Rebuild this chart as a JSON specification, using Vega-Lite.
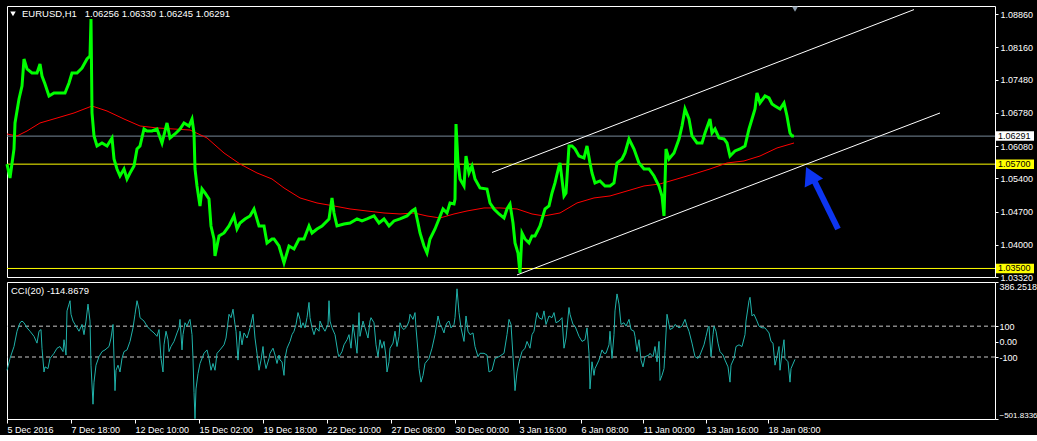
{
  "$schema": "https://vega.github.io/schema/vega-lite/v6.json",
  "background": "#000000",
  "padding": {"left": 0, "top": 5, "right": 0, "bottom": 0},
  "spacing": 5,
  "bounds": "flush",
  "config": {
    "view": {"stroke": "#ffffff", "strokeWidth": 1, "fill": "#000000"},
    "font": "Liberation Sans",
    "axis": {"labelFont": "Liberation Sans", "labelColor": "#ffffff", "tickColor": "#ffffff", "domain": false, "grid": false, "title": null, "labelFontSize": 9, "labelOverlap": false, "labelFlush": false, "tickCount": 50}
  },
  "datasets": {
    "price": [
      {"bar":0,"close":1.0570},{"bar":3,"close":1.05408},{"bar":7,"close":1.0602},{"bar":8,"close":1.06568},{"bar":12,"close":1.07074},{"bar":15,"close":1.07348},{"bar":17,"close":1.07917},{"bar":20,"close":1.07707},{"bar":25,"close":1.07622},{"bar":30,"close":1.07622},{"bar":33,"close":1.07812},{"bar":35,"close":1.07559},{"bar":38,"close":1.0739},{"bar":42,"close":1.07137},{"bar":47,"close":1.07201},{"bar":53,"close":1.07201},{"bar":58,"close":1.07201},{"bar":62,"close":1.07411},{"bar":65,"close":1.07622},{"bar":70,"close":1.07622},{"bar":75,"close":1.07728},{"bar":80,"close":1.07917},{"bar":83,"close":1.07981},{"bar":84,"close":1.08761},{"bar":85,"close":1.06779},{"bar":87,"close":1.06294},{"bar":90,"close":1.06083},{"bar":95,"close":1.06146},{"bar":100,"close":1.06083},{"bar":105,"close":1.06252},{"bar":107,"close":1.05809},{"bar":110,"close":1.05598},{"bar":113,"close":1.0545},{"bar":117,"close":1.05598},{"bar":120,"close":1.05387},{"bar":123,"close":1.05514},{"bar":127,"close":1.05661},{"bar":130,"close":1.0602},{"bar":133,"close":1.06083},{"bar":137,"close":1.06441},{"bar":140,"close":1.06399},{"bar":145,"close":1.06399},{"bar":150,"close":1.06441},{"bar":155,"close":1.06146},{"bar":160,"close":1.06568},{"bar":163,"close":1.06252},{"bar":168,"close":1.06336},{"bar":173,"close":1.06441},{"bar":177,"close":1.06568},{"bar":182,"close":1.06505},{"bar":185,"close":1.06652},{"bar":187,"close":1.06357},{"bar":188,"close":1.05598},{"bar":190,"close":1.0524},{"bar":193,"close":1.04818},{"bar":195,"close":1.05176},{"bar":198,"close":1.05092},{"bar":202,"close":1.04965},{"bar":204,"close":1.04396},{"bar":207,"close":1.04122},{"bar":208,"close":1.03763},{"bar":212,"close":1.04185},{"bar":217,"close":1.04248},{"bar":222,"close":1.04396},{"bar":227,"close":1.04607},{"bar":230,"close":1.04333},{"bar":233,"close":1.04459},{"bar":238,"close":1.04544},{"bar":243,"close":1.04607},{"bar":247,"close":1.04755},{"bar":252,"close":1.04396},{"bar":257,"close":1.04396},{"bar":260,"close":1.04038},{"bar":265,"close":1.04122},{"bar":267,"close":1.04122},{"bar":272,"close":1.03974},{"bar":277,"close":1.03616},{"bar":282,"close":1.03974},{"bar":287,"close":1.03911},{"bar":292,"close":1.04122},{"bar":297,"close":1.04122},{"bar":302,"close":1.04396},{"bar":305,"close":1.04248},{"bar":310,"close":1.04333},{"bar":315,"close":1.04396},{"bar":322,"close":1.04544},{"bar":325,"close":1.04987},{"bar":327,"close":1.0467},{"bar":330,"close":1.04396},{"bar":337,"close":1.04438},{"bar":343,"close":1.04459},{"bar":350,"close":1.04544},{"bar":355,"close":1.04502},{"bar":360,"close":1.04544},{"bar":367,"close":1.04607},{"bar":372,"close":1.04459},{"bar":377,"close":1.04544},{"bar":382,"close":1.04396},{"bar":387,"close":1.04502},{"bar":393,"close":1.04544},{"bar":400,"close":1.04607},{"bar":405,"close":1.04712},{"bar":408,"close":1.04755},{"bar":411,"close":1.04459},{"bar":413,"close":1.04248},{"bar":417,"close":1.03974},{"bar":420,"close":1.03827},{"bar":423,"close":1.04122},{"bar":428,"close":1.04333},{"bar":432,"close":1.04544},{"bar":436,"close":1.04755},{"bar":440,"close":1.0467},{"bar":443,"close":1.04881},{"bar":447,"close":1.0486},{"bar":448,"close":1.04965},{"bar":449,"close":1.06547},{"bar":451,"close":1.05725},{"bar":453,"close":1.05387},{"bar":457,"close":1.0524},{"bar":459,"close":1.05872},{"bar":462,"close":1.05514},{"bar":465,"close":1.05661},{"bar":468,"close":1.05387},{"bar":473,"close":1.05197},{"bar":480,"close":1.05176},{"bar":483,"close":1.04881},{"bar":487,"close":1.04755},{"bar":492,"close":1.04649},{"bar":497,"close":1.04565},{"bar":500,"close":1.04755},{"bar":503,"close":1.0486},{"bar":506,"close":1.04459},{"bar":508,"close":1.04038},{"bar":511,"close":1.03827},{"bar":513,"close":1.03405},{"bar":515,"close":1.04248},{"bar":518,"close":1.04122},{"bar":522,"close":1.04038},{"bar":525,"close":1.04185},{"bar":528,"close":1.04185},{"bar":533,"close":1.04396},{"bar":538,"close":1.04755},{"bar":542,"close":1.04818},{"bar":545,"close":1.05092},{"bar":548,"close":1.05303},{"bar":552,"close":1.05661},{"bar":553,"close":1.05725},{"bar":557,"close":1.05029},{"bar":559,"close":1.05092},{"bar":562,"close":1.06083},{"bar":565,"close":1.06083},{"bar":568,"close":1.0602},{"bar":572,"close":1.05872},{"bar":577,"close":1.0583},{"bar":580,"close":1.06083},{"bar":583,"close":1.05725},{"bar":585,"close":1.05514},{"bar":588,"close":1.05303},{"bar":593,"close":1.05345},{"bar":598,"close":1.0524},{"bar":603,"close":1.0524},{"bar":607,"close":1.05303},{"bar":610,"close":1.05725},{"bar":615,"close":1.05809},{"bar":618,"close":1.05935},{"bar":622,"close":1.06231},{"bar":627,"close":1.0602},{"bar":632,"close":1.05725},{"bar":637,"close":1.05598},{"bar":642,"close":1.05598},{"bar":647,"close":1.0545},{"bar":652,"close":1.0524},{"bar":655,"close":1.05029},{"bar":657,"close":1.04607},{"bar":659,"close":1.0602},{"bar":662,"close":1.05809},{"bar":667,"close":1.05935},{"bar":672,"close":1.06231},{"bar":675,"close":1.06505},{"bar":678,"close":1.06863},{"bar":682,"close":1.06652},{"bar":685,"close":1.06294},{"bar":690,"close":1.06146},{"bar":695,"close":1.06146},{"bar":698,"close":1.06357},{"bar":703,"close":1.06652},{"bar":705,"close":1.06357},{"bar":708,"close":1.06441},{"bar":712,"close":1.06252},{"bar":717,"close":1.06231},{"bar":720,"close":1.06146},{"bar":723,"close":1.05872},{"bar":728,"close":1.05978},{"bar":733,"close":1.0602},{"bar":738,"close":1.06083},{"bar":742,"close":1.06441},{"bar":745,"close":1.06652},{"bar":748,"close":1.06863},{"bar":750,"close":1.07201},{"bar":753,"close":1.0699},{"bar":758,"close":1.07137},{"bar":762,"close":1.07095},{"bar":765,"close":1.06969},{"bar":768,"close":1.06926},{"bar":773,"close":1.06863},{"bar":777,"close":1.0699},{"bar":780,"close":1.06716},{"bar":783,"close":1.06357},{"bar":785,"close":1.06294},{"bar":787,"close":1.06291}
    ],
    "ma": [
      {"bar":0,"ma":1.06336},{"bar":10,"ma":1.06294},{"bar":20,"ma":1.06399},{"bar":33,"ma":1.06568},{"bar":50,"ma":1.06673},{"bar":67,"ma":1.06779},{"bar":85,"ma":1.06926},{"bar":100,"ma":1.06821},{"bar":117,"ma":1.06652},{"bar":133,"ma":1.06505},{"bar":150,"ma":1.06463},{"bar":167,"ma":1.06441},{"bar":183,"ma":1.0642},{"bar":200,"ma":1.06252},{"bar":217,"ma":1.05935},{"bar":233,"ma":1.05703},{"bar":250,"ma":1.05514},{"bar":265,"ma":1.05387},{"bar":277,"ma":1.05197},{"bar":293,"ma":1.04987},{"bar":310,"ma":1.04881},{"bar":327,"ma":1.04818},{"bar":343,"ma":1.04755},{"bar":360,"ma":1.04712},{"bar":377,"ma":1.0467},{"bar":393,"ma":1.04649},{"bar":407,"ma":1.0467},{"bar":420,"ma":1.04607},{"bar":433,"ma":1.04565},{"bar":447,"ma":1.04649},{"bar":460,"ma":1.04712},{"bar":477,"ma":1.04776},{"bar":493,"ma":1.04776},{"bar":510,"ma":1.04755},{"bar":525,"ma":1.04649},{"bar":537,"ma":1.04607},{"bar":553,"ma":1.0467},{"bar":570,"ma":1.04881},{"bar":587,"ma":1.04987},{"bar":603,"ma":1.05029},{"bar":620,"ma":1.05134},{"bar":637,"ma":1.0524},{"bar":653,"ma":1.05282},{"bar":670,"ma":1.05387},{"bar":687,"ma":1.05493},{"bar":703,"ma":1.05598},{"bar":720,"ma":1.05725},{"bar":737,"ma":1.05767},{"bar":753,"ma":1.05872},{"bar":770,"ma":1.06041},{"bar":787,"ma":1.06146}
    ],
    "cci": [
      {"bar":0,"cci":-186},{"bar":3,"cci":-109},{"bar":7,"cci":-32},{"bar":10,"cci":67},{"bar":13,"cci":122},{"bar":15,"cci":133},{"bar":17,"cci":122},{"bar":20,"cci":89},{"bar":23,"cci":67},{"bar":27,"cci":34},{"bar":30,"cci":-10},{"bar":32,"cci":67},{"bar":34,"cci":78},{"bar":35,"cci":-43},{"bar":37,"cci":-197},{"bar":38,"cci":-164},{"bar":41,"cci":-175},{"bar":43,"cci":-109},{"bar":47,"cci":-76},{"bar":50,"cci":-43},{"bar":53,"cci":-32},{"bar":56,"cci":-65},{"bar":57,"cci":12},{"bar":59,"cci":-87},{"bar":60,"cci":199},{"bar":62,"cci":243},{"bar":63,"cci":265},{"bar":64,"cci":177},{"bar":66,"cci":133},{"bar":68,"cci":111},{"bar":72,"cci":67},{"bar":75,"cci":111},{"bar":77,"cci":45},{"bar":79,"cci":133},{"bar":81,"cci":243},{"bar":83,"cci":133},{"bar":84,"cci":-153},{"bar":86,"cci":-406},{"bar":87,"cci":-263},{"bar":89,"cci":-153},{"bar":92,"cci":-98},{"bar":95,"cci":-65},{"bar":98,"cci":-54},{"bar":102,"cci":-32},{"bar":104,"cci":23},{"bar":106,"cci":111},{"bar":107,"cci":-109},{"bar":108,"cci":-318},{"bar":109,"cci":-186},{"bar":111,"cci":-153},{"bar":113,"cci":-197},{"bar":115,"cci":-109},{"bar":117,"cci":-65},{"bar":120,"cci":-54},{"bar":123,"cci":1},{"bar":126,"cci":89},{"bar":128,"cci":177},{"bar":130,"cci":265},{"bar":132,"cci":210},{"bar":133,"cci":155},{"bar":137,"cci":133},{"bar":140,"cci":100},{"bar":143,"cci":78},{"bar":147,"cci":56},{"bar":150,"cci":34},{"bar":152,"cci":78},{"bar":154,"cci":-109},{"bar":156,"cci":-197},{"bar":157,"cci":-21},{"bar":159,"cci":67},{"bar":161,"cci":12},{"bar":162,"cci":-65},{"bar":164,"cci":-32},{"bar":167,"cci":1},{"bar":170,"cci":56},{"bar":172,"cci":89},{"bar":173,"cci":144},{"bar":175,"cci":-54},{"bar":176,"cci":45},{"bar":178,"cci":122},{"bar":180,"cci":100},{"bar":182,"cci":133},{"bar":183,"cci":144},{"bar":185,"cci":45},{"bar":186,"cci":-109},{"bar":187,"cci":-329},{"bar":188,"cci":-500},{"bar":189,"cci":-307},{"bar":191,"cci":-208},{"bar":193,"cci":-142},{"bar":197,"cci":-76},{"bar":200,"cci":-54},{"bar":202,"cci":-109},{"bar":204,"cci":-186},{"bar":206,"cci":-142},{"bar":208,"cci":-186},{"bar":210,"cci":-76},{"bar":213,"cci":-54},{"bar":217,"cci":-21},{"bar":219,"cci":23},{"bar":222,"cci":177},{"bar":224,"cci":155},{"bar":226,"cci":210},{"bar":228,"cci":111},{"bar":229,"cci":67},{"bar":231,"cci":-120},{"bar":233,"cci":67},{"bar":235,"cci":-21},{"bar":237,"cci":56},{"bar":240,"cci":23},{"bar":243,"cci":89},{"bar":246,"cci":177},{"bar":248,"cci":23},{"bar":250,"cci":-76},{"bar":252,"cci":-186},{"bar":254,"cci":-120},{"bar":256,"cci":-32},{"bar":257,"cci":-109},{"bar":259,"cci":-175},{"bar":262,"cci":-109},{"bar":263,"cci":-76},{"bar":266,"cci":-43},{"bar":268,"cci":-87},{"bar":270,"cci":-142},{"bar":272,"cci":-87},{"bar":273,"cci":-120},{"bar":275,"cci":-131},{"bar":277,"cci":-219},{"bar":278,"cci":-109},{"bar":280,"cci":-43},{"bar":283,"cci":1},{"bar":285,"cci":45},{"bar":287,"cci":67},{"bar":289,"cci":111},{"bar":291,"cci":188},{"bar":293,"cci":144},{"bar":294,"cci":89},{"bar":296,"cci":122},{"bar":298,"cci":89},{"bar":300,"cci":155},{"bar":302,"cci":254},{"bar":303,"cci":155},{"bar":305,"cci":89},{"bar":307,"cci":45},{"bar":309,"cci":89},{"bar":312,"cci":67},{"bar":313,"cci":133},{"bar":316,"cci":89},{"bar":318,"cci":67},{"bar":321,"cci":111},{"bar":322,"cci":265},{"bar":323,"cci":133},{"bar":325,"cci":89},{"bar":328,"cci":45},{"bar":331,"cci":-76},{"bar":332,"cci":-98},{"bar":335,"cci":-65},{"bar":337,"cci":-21},{"bar":340,"cci":12},{"bar":342,"cci":45},{"bar":344,"cci":-43},{"bar":346,"cci":111},{"bar":348,"cci":23},{"bar":350,"cci":-76},{"bar":352,"cci":188},{"bar":353,"cci":34},{"bar":356,"cci":133},{"bar":358,"cci":89},{"bar":361,"cci":23},{"bar":363,"cci":133},{"bar":364,"cci":155},{"bar":367,"cci":122},{"bar":369,"cci":-21},{"bar":371,"cci":-98},{"bar":373,"cci":12},{"bar":375,"cci":-43},{"bar":377,"cci":1},{"bar":379,"cci":-98},{"bar":380,"cci":-197},{"bar":382,"cci":-131},{"bar":383,"cci":-43},{"bar":386,"cci":-10},{"bar":388,"cci":67},{"bar":390,"cci":-32},{"bar":392,"cci":34},{"bar":393,"cci":122},{"bar":395,"cci":89},{"bar":397,"cci":78},{"bar":400,"cci":100},
      {"bar":402,"cci":133},{"bar":403,"cci":177},{"bar":406,"cci":144},{"bar":408,"cci":188},{"bar":409,"cci":89},{"bar":411,"cci":-65},{"bar":412,"cci":-175},{"bar":414,"cci":-263},{"bar":416,"cci":-219},{"bar":418,"cci":-142},{"bar":422,"cci":-109},{"bar":425,"cci":-43},{"bar":428,"cci":45},{"bar":431,"cci":166},{"bar":433,"cci":111},{"bar":435,"cci":89},{"bar":437,"cci":56},{"bar":438,"cci":89},{"bar":440,"cci":122},{"bar":442,"cci":133},{"bar":444,"cci":89},{"bar":447,"cci":111},{"bar":448,"cci":155},{"bar":450,"cci":342},{"bar":452,"cci":188},{"bar":454,"cci":89},{"bar":457,"cci":1},{"bar":459,"cci":166},{"bar":461,"cci":67},{"bar":463,"cci":45},{"bar":466,"cci":56},{"bar":468,"cci":-32},{"bar":471,"cci":-98},{"bar":473,"cci":-76},{"bar":477,"cci":-76},{"bar":480,"cci":-87},{"bar":482,"cci":-197},{"bar":485,"cci":-186},{"bar":488,"cci":-109},{"bar":492,"cci":-98},{"bar":497,"cci":-76},{"bar":500,"cci":45},{"bar":502,"cci":144},{"bar":504,"cci":111},{"bar":507,"cci":-197},{"bar":508,"cci":-318},{"bar":510,"cci":-197},{"bar":512,"cci":-131},{"bar":515,"cci":-65},{"bar":518,"cci":-43},{"bar":520,"cci":1},{"bar":523,"cci":-43},{"bar":525,"cci":45},{"bar":527,"cci":67},{"bar":530,"cci":188},{"bar":532,"cci":155},{"bar":535,"cci":144},{"bar":537,"cci":199},{"bar":539,"cci":111},{"bar":542,"cci":166},{"bar":545,"cci":155},{"bar":547,"cci":188},{"bar":549,"cci":122},{"bar":552,"cci":133},{"bar":555,"cci":155},{"bar":557,"cci":-43},{"bar":559,"cci":23},{"bar":562,"cci":221},{"bar":563,"cci":177},{"bar":566,"cci":111},{"bar":568,"cci":100},{"bar":572,"cci":34},{"bar":575,"cci":1},{"bar":578,"cci":12},{"bar":580,"cci":89},{"bar":582,"cci":-76},{"bar":583,"cci":-307},{"bar":585,"cci":-131},{"bar":587,"cci":-219},{"bar":588,"cci":-175},{"bar":592,"cci":-120},{"bar":595,"cci":-54},{"bar":597,"cci":-76},{"bar":599,"cci":-76},{"bar":602,"cci":-21},{"bar":603,"cci":67},{"bar":605,"cci":-109},{"bar":607,"cci":45},{"bar":608,"cci":199},{"bar":610,"cci":309},{"bar":612,"cci":243},{"bar":614,"cci":111},{"bar":617,"cci":122},{"bar":619,"cci":100},{"bar":622,"cci":144},{"bar":624,"cci":78},{"bar":627,"cci":67},{"bar":628,"cci":34},{"bar":630,"cci":-65},{"bar":632,"cci":12},{"bar":634,"cci":-120},{"bar":636,"cci":-164},{"bar":638,"cci":-98},{"bar":642,"cci":-87},{"bar":643,"cci":-76},{"bar":646,"cci":-98},{"bar":648,"cci":-32},{"bar":650,"cci":-131},{"bar":652,"cci":1},{"bar":653,"cci":-252},{"bar":655,"cci":-219},{"bar":657,"cci":-175},{"bar":658,"cci":-65},{"bar":660,"cci":177},{"bar":662,"cci":111},{"bar":663,"cci":78},{"bar":666,"cci":89},{"bar":668,"cci":111},{"bar":672,"cci":89},{"bar":675,"cci":100},{"bar":678,"cci":144},{"bar":680,"cci":100},{"bar":682,"cci":67},{"bar":685,"cci":-10},{"bar":688,"cci":-98},{"bar":691,"cci":-109},{"bar":693,"cci":-87},{"bar":697,"cci":-21},{"bar":699,"cci":34},{"bar":701,"cci":89},{"bar":702,"cci":100},{"bar":704,"cci":-98},{"bar":706,"cci":45},{"bar":707,"cci":100},{"bar":709,"cci":67},{"bar":711,"cci":-10},{"bar":713,"cci":-65},{"bar":716,"cci":-87},{"bar":718,"cci":-120},{"bar":721,"cci":-164},{"bar":723,"cci":-263},{"bar":724,"cci":-153},{"bar":727,"cci":-109},{"bar":729,"cci":-32},{"bar":732,"cci":-21},{"bar":735,"cci":-32},{"bar":738,"cci":45},{"bar":739,"cci":133},{"bar":742,"cci":265},{"bar":743,"cci":287},{"bar":745,"cci":166},{"bar":747,"cci":177},{"bar":750,"cci":133},{"bar":752,"cci":100},{"bar":755,"cci":89},{"bar":758,"cci":89},{"bar":762,"cci":56},{"bar":764,"cci":1},{"bar":766,"cci":-10},{"bar":768,"cci":-153},{"bar":770,"cci":-98},{"bar":772,"cci":-32},{"bar":773,"cci":-186},{"bar":775,"cci":-76},{"bar":777,"cci":12},{"bar":778,"cci":-109},{"bar":781,"cci":-131},{"bar":783,"cci":-263},{"bar":784,"cci":-175},{"bar":788,"cci":-115}
    ],
    "levels": [
      {"level": 1.06291, "kind": "last"},
      {"level": 1.057, "kind": "hline"},
      {"level": 1.035, "kind": "hline"}
    ],
    "channel": [
      {"b1": 485, "p1": 1.05524, "b2": 907, "p2": 1.08959},
      {"b1": 510, "p1": 1.03363, "b2": 933, "p2": 1.06779}
    ],
    "arrow": [{"b1": 831, "p1": 1.04333, "b2": 807, "p2": 1.05360, "hb": 803, "hp": 1.0547}],
    "header": [{"text": "EURUSD,H1\u00a0\u00a0 1.06256 1.06330 1.06245 1.06291"}],
    "ccicaption": [{"text": "CCI(20) -114.8679"}],
    "ccilevels": [{"level": 100}, {"level": -100}]
  },
  "vconcat": [
    {
      "width": 988,
      "height": 271,
      "layer": [
        {
          "data": {"name": "levels"},
          "mark": {"type": "rule", "strokeWidth": 1},
          "encoding": {
            "y": {"field": "level", "type": "quantitative", "scale": {"domain": [1.0332, 1.09035], "nice": false, "zero": false},
              "axis": {"orient": "right", "values": [1.0886, 1.0816, 1.0748, 1.0678, 1.0608, 1.054, 1.047, 1.04, 1.0332], "format": ".5f", "tickSize": 3, "labelPadding": 2, "labelFlush": false, "labelOverlap": false, "tickCount": 50}},
            "color": {"condition": {"test": "datum.kind == 'last'", "value": "#778899"}, "value": "#ffff00"}
          }
        },
        {
          "data": {"name": "ma"},
          "mark": {"type": "line", "color": "#ff0000", "strokeWidth": 1},
          "encoding": {
            "x": {"field": "bar", "type": "quantitative", "scale": {"domain": [0, 988], "nice": false, "zero": false}, "axis": null},
            "y": {"field": "ma", "type": "quantitative"}
          }
        },
        {
          "data": {"name": "price"},
          "mark": {"type": "line", "color": "#00ff00", "strokeWidth": 3},
          "encoding": {
            "x": {"field": "bar", "type": "quantitative"},
            "y": {"field": "close", "type": "quantitative"}
          }
        },
        {
          "data": {"name": "channel"},
          "mark": {"type": "rule", "color": "#ffffff", "strokeWidth": 1},
          "encoding": {
            "x": {"field": "b1", "type": "quantitative"},
            "x2": {"field": "b2"},
            "y": {"field": "p1", "type": "quantitative"},
            "y2": {"field": "p2"}
          }
        },
        {
          "data": {"name": "arrow"},
          "mark": {"type": "rule", "color": "#0d35f0", "strokeWidth": 6, "strokeCap": "butt"},
          "encoding": {
            "x": {"field": "b1", "type": "quantitative"},
            "x2": {"field": "b2"},
            "y": {"field": "p1", "type": "quantitative"},
            "y2": {"field": "p2"}
          }
        },
        {
          "data": {"name": "arrow"},
          "mark": {"type": "point", "shape": "triangle-up", "filled": true, "color": "#0d35f0", "opacity": 1, "size": 420, "angle": 334},
          "encoding": {
            "x": {"field": "hb", "type": "quantitative"},
            "y": {"field": "hp", "type": "quantitative"}
          }
        },
        {
          "data": {"name": "levels"},
          "mark": {"type": "point", "shape": "M-1,-0.25L1,-0.25L1,0.25L-1,0.25Z", "filled": true, "size": 1444, "opacity": 1, "clip": false, "strokeWidth": 0},
          "encoding": {
            "x": {"datum": 1008},
            "y": {"field": "level", "type": "quantitative"},
            "color": {"condition": {"test": "datum.kind == 'last'", "value": "#ffffff"}, "value": "#ffff00"}
          }
        },
        {
          "data": {"name": "levels"},
          "mark": {"type": "text", "align": "left", "baseline": "middle", "color": "#000000", "fontSize": 9, "font": "Liberation Sans", "clip": false},
          "encoding": {
            "x": {"datum": 991},
            "y": {"field": "level", "type": "quantitative"},
            "text": {"field": "level", "format": ".5f"}
          }
        },
        {
          "data": {"name": "header"},
          "mark": {"type": "text", "align": "left", "baseline": "middle", "color": "#ffffff", "fontSize": 9.5, "font": "Liberation Sans"},
          "encoding": {
            "x": {"datum": 15},
            "y": {"datum": 1.08865},
            "text": {"field": "text"}
          }
        },
        {
          "data": {"name": "header"},
          "mark": {"type": "point", "shape": "triangle-down", "filled": true, "color": "#ffffff", "opacity": 1, "size": 30},
          "encoding": {
            "x": {"datum": 6},
            "y": {"datum": 1.0887}
          }
        },
        {
          "data": {"name": "header"},
          "mark": {"type": "point", "shape": "triangle-down", "filled": true, "color": "#8a9aaa", "opacity": 1, "size": 36},
          "encoding": {
            "x": {"datum": 788},
            "y": {"datum": 1.0897}
          }
        }
      ]
    },
    {
      "width": 988,
      "height": 137,
      "layer": [
        {
          "data": {"name": "ccilevels"},
          "mark": {"type": "rule", "color": "#c8c8c8", "strokeWidth": 1, "strokeDash": [4, 3]},
          "encoding": {
            "y": {"field": "level", "type": "quantitative", "scale": {"domain": [-501.8336, 386.2518], "nice": false, "zero": false},
              "axis": {"orient": "right", "values": [386.2518, 100, 0, -100, -501.8336], "labelExpr": "datum.value == 100 ? '100' : datum.value == 0 ? '0.00' : datum.value == -100 ? '-100' : format(datum.value, '.4f')", "tickSize": 3, "labelPadding": 1, "labelFlush": true, "labelOverlap": false, "tickCount": 50,
                "labelFontSize": {"condition": {"test": "datum.value < -500", "value": 8}, "value": 9}}}
          }
        },
        {
          "data": {"name": "cci"},
          "mark": {"type": "line", "color": "#20b2aa", "strokeWidth": 1},
          "encoding": {
            "x": {"field": "bar", "type": "quantitative", "scale": {"domain": [0, 988], "nice": false, "zero": false},
              "axis": {"values": [0, 64, 128, 192, 256, 320, 384, 448, 512, 574, 636, 699, 761],
                "labelExpr": "['5 Dec 2016','7 Dec 18:00','12 Dec 10:00','15 Dec 02:00','19 Dec 18:00','22 Dec 10:00','27 Dec 08:00','30 Dec 00:00','3 Jan 16:00','6 Jan 08:00','11 Jan 00:00','13 Jan 16:00','18 Jan 08:00'][indexof([0,64,128,192,256,320,384,448,512,574,636,699,761], datum.value)]",
                "labelAlign": "left", "tickSize": 4, "labelPadding": 2, "labelFlush": false, "labelOverlap": false, "tickCount": 50}},
            "y": {"field": "cci", "type": "quantitative"}
          }
        },
        {
          "data": {"name": "ccicaption"},
          "mark": {"type": "text", "align": "left", "baseline": "middle", "color": "#ffffff", "fontSize": 9.5, "font": "Liberation Sans"},
          "encoding": {
            "x": {"datum": 4},
            "y": {"datum": 328},
            "text": {"field": "text"}
          }
        }
      ]
    }
  ]
}
